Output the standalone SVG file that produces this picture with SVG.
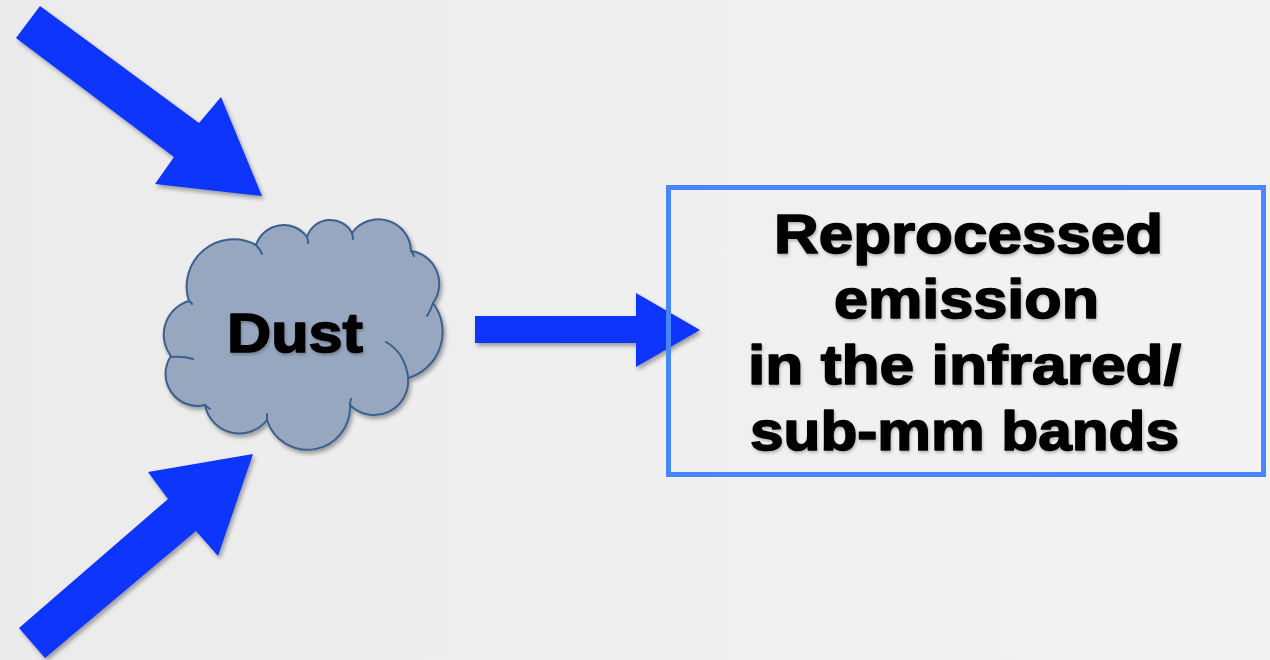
<svg xmlns="http://www.w3.org/2000/svg" width="1270" height="660" viewBox="0 0 1270 660">
  <defs>
    <linearGradient id="bg" x1="0" y1="0" x2="1" y2="0">
      <stop offset="0" stop-color="#ebebeb"/>
      <stop offset="1" stop-color="#f3f3f3"/>
    </linearGradient>
    <filter id="sh" x="-20%" y="-20%" width="140%" height="140%">
      <feDropShadow dx="2" dy="3" stdDeviation="2" flood-color="#000" flood-opacity="0.35"/>
    </filter>
    <filter id="tsh" x="-10%" y="-10%" width="120%" height="130%">
      <feDropShadow dx="1" dy="2" stdDeviation="1.5" flood-color="#000" flood-opacity="0.25"/>
    </filter>
  </defs>
  <style>
    .arrow { fill: #0b34fb; filter: url(#sh); }
    .cloud { fill: #97a7bf; stroke: #3b5f8f; stroke-width: 2; }
    .tick { fill: none; stroke: #3b5f8f; stroke-width: 2; stroke-linecap: round; }
    .lbl { font-family: "Liberation Sans", Arial, Helvetica, sans-serif; font-weight: bold; font-size: 56px; fill: #000; stroke: #000; stroke-width: 1.6; stroke-linejoin: round; text-anchor: middle; filter: url(#tsh); }
    .box { fill: none; stroke: #4a86fb; stroke-width: 5; }
  </style>
  <rect width="1270" height="660" fill="url(#bg)"/>

  <g id="connectors">
    <polygon class="arrow" points="40,6 199,123 221,97 262,196 155,184 174,157 16,38"/>
    <polygon class="arrow" points="19,628 168,499 148,472 253,454 218,556 196,531 45,658"/>
    <polygon class="arrow" points="475,316 636,316 636,293 700,330 636,367 636,343 475,343"/>
  </g>

  <g id="dust">
    <path class="cloud" filter="url(#sh)" d="M189,301 A47,47 0 0 1 256,245 A29,29 0 0 1 307,237 A24.5,24.5 0 0 1 352,233 A32.5,32.5 0 0 1 411,251 A33,33 0 0 1 433,303 A48,48 0 0 1 408,378 A34,34 0 0 1 350,405 A42.5,42.5 0 0 1 267,420 A35,35 0 0 1 205,405 A32,32 0 0 1 171,356 A35,35 0 0 1 189,301 Z"/>
    <path class="tick" d="M256,245 Q260,249 262,254 M307,237 Q308,240 308,243 M352,233 Q353,236 353,239 M411,251 Q413,253 414,256 M433,303 Q431,310 427,316 M386,342 Q404,352 408,376 M350,405 Q350,402 351,399 M267,420 Q267,417 267,414 M205,405 Q207,407 210,409 M172,357 Q183,356 193,359 M189,301 Q191,302 192,304"/>
    <text class="lbl" x="295" y="352" textLength="136" lengthAdjust="spacingAndGlyphs">Dust</text>
  </g>

  <g id="emission">
    <rect class="box" x="668.5" y="187.5" width="595" height="287"/>
    <text class="lbl" x="968.5" y="253" textLength="389" lengthAdjust="spacingAndGlyphs">Reprocessed</text>
    <text class="lbl" x="966.5" y="318" textLength="265" lengthAdjust="spacingAndGlyphs">emission</text>
    <text class="lbl" x="964.5" y="384" textLength="433" lengthAdjust="spacingAndGlyphs">in the infrared/</text>
    <text class="lbl" x="964.5" y="450" textLength="429" lengthAdjust="spacingAndGlyphs">sub-mm bands</text>
  </g>
</svg>
